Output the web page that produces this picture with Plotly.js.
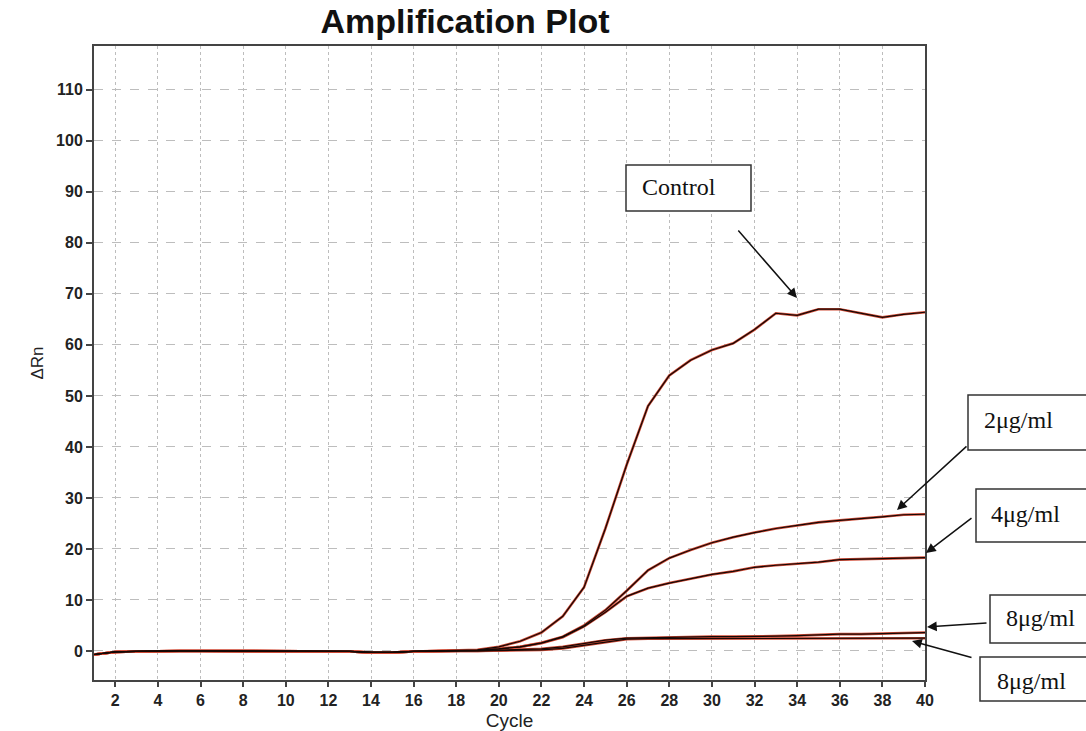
<!DOCTYPE html>
<html>
<head>
<meta charset="utf-8">
<script src="https://cdn.plot.ly/plotly-3.0.1.min.js"></script>
<style>html,body{margin:0;padding:0;background:#fff}#chart{width:1086px;height:731px}</style>
</head>
<body>
<div id="chart"></div>
<script>
// ---- data ----
const cycles = [1,2,3,4,5,6,7,8,9,10,11,12,13,14,15,16,17,18,19,20,21,22,23,24,25,26,27,28,29,30,31,32,33,34,35,36,37,38,39,40];
const control = [-0.7,-0.2,-0.1,0,0,0,0,0,0,0,0,0,-0.1,-0.3,-0.3,-0.1,0,0,0.2,0.8,1.9,3.6,6.8,12.5,24,36.5,48,54,57,59,60.3,63,66.2,65.8,67,67,66.2,65.4,66,66.4];
const ug2 = [-0.7,-0.2,-0.1,0,0,0,0,0,0,0,0,0,-0.1,-0.3,-0.3,-0.1,0,0,0.1,0.4,0.8,1.6,2.8,5,8,11.8,15.8,18.2,19.8,21.2,22.3,23.2,24,24.6,25.2,25.6,25.9,26.3,26.7,26.8];
const ug4 = [-0.7,-0.2,-0.1,0,0,0,0,0,0,0,0,0,-0.1,-0.3,-0.3,-0.1,0,0,0.1,0.4,0.8,1.5,2.7,4.8,7.6,10.7,12.3,13.3,14.1,15,15.6,16.4,16.8,17.1,17.4,17.9,18,18.2,18.3,18.3];
const ug8a = [-0.7,-0.2,-0.1,0,0,0,0,0,0,0,0,0,-0.1,-0.3,-0.3,-0.1,0,0,0,0.1,0.2,0.4,0.8,1.5,2.1,2.5,2.6,2.6,2.7,2.8,2.8,2.8,2.9,3.0,3.2,3.3,3.3,3.4,3.5,3.6];
const ug8b = [-0.7,-0.2,-0.1,0,0,0,0,0,0,0,0,0,-0.1,-0.3,-0.3,-0.1,0,0,0,0.1,0.1,0.2,0.5,1.1,1.8,2.3,2.4,2.4,2.4,2.5,2.5,2.5,2.5,2.5,2.5,2.5,2.5,2.5,2.5,2.5];
const seriesList = [control, ug2, ug4, ug8a, ug8b];
const xTicks = [2,4,6,8,10,12,14,16,18,20,22,24,26,28,30,32,34,36,38,40];
const yTicks = [0,10,20,30,40,50,60,70,80,90,100,110];
const labels = ["Control","2μg/ml","4μg/ml","8μg/ml","8μg/ml"];

// ---- layout helpers (pixel -> paper) ----
const W = 1086, H = 731;
const L = 94, R = 925, T = 46, B = 680;
const px = p => (p - L) / (R - L);
const py = p => (B - p) / (B - T);

const traces = [];
seriesList.forEach(s => {
  traces.push({x: cycles, y: s, mode: 'lines', line: {color: '#d04a35', width: 2.6}, hoverinfo: 'skip'});
});
seriesList.forEach(s => {
  traces.push({x: cycles, y: s, mode: 'lines', line: {color: '#150805', width: 1.2}, hoverinfo: 'skip'});
});

// boxes [left, top, right, bottom] in pixels, text pos, arrow tail & tip
const boxes = [
  {b:[626,165,751,211], t:[640,187], tail:[737,229], tip:[797,298]},
  {b:[968,395,1095,450], t:[982,420], tail:[968,445], tip:[897,510]},
  {b:[976,489,1095,542], t:[989,514], tail:[973,517], tip:[926,553]},
  {b:[990,595,1095,643], t:[1004,618], tail:[988,623], tip:[927,627]},
  {b:[980,657,1095,701], t:[995,681], tail:[973,658], tip:[912,641]}
];

const shapes = boxes.map(o => ({
  type:'rect', xref:'paper', yref:'paper',
  x0: px(o.b[0]), x1: px(o.b[2]), y0: py(o.b[3]), y1: py(o.b[1]),
  line:{color:'#333', width:1.5}, fillcolor:'#fff', layer:'above'
}));

const annotations = [];
boxes.forEach((o, i) => {
  annotations.push({
    xref:'paper', yref:'paper', x: px(o.t[0]), y: py(o.t[1]),
    xanchor:'left', yanchor:'middle', showarrow:false, text: labels[i],
    font:{family:'Liberation Serif, Times New Roman, serif', size:24, color:'#111'}
  });
  annotations.push({
    xref:'paper', yref:'paper', x: px(o.tip[0]), y: py(o.tip[1]),
    ax: o.tail[0] - o.tip[0], ay: o.tail[1] - o.tip[1],
    showarrow:true, text:'', arrowhead:2, arrowsize:1.3, arrowwidth:1.5, arrowcolor:'#111'
  });
});

const layout = {
  width: W, height: H,
  margin: {l: L, r: W - R, t: T, b: H - B, pad: 0},
  paper_bgcolor: '#fff', plot_bgcolor: '#fff',
  showlegend: false,
  title: {text: 'Amplification Plot', x: 465 / W, xref: 'container', xanchor: 'center',
          y: 1 - 21 / H, yref: 'container', yanchor: 'middle',
          font: {family: 'Liberation Sans, Arial, sans-serif', size: 34, color: '#111', weight: 'bold'}},
  xaxis: {
    range: [1, 40], tickvals: xTicks, ticktext: xTicks.map(String),
    showgrid: true, gridcolor: '#bdbdbd', griddash: 'dot', gridwidth: 1,
    zeroline: false, showline: true, linecolor: '#444', linewidth: 2, mirror: true,
    ticks: 'outside', ticklen: 5, tickcolor: '#444', tickwidth: 2,
    tickfont: {family: 'Liberation Sans, Arial, sans-serif', size: 16, color: '#222', weight: 'bold'},
    title: {text: 'Cycle', standoff: 5, font: {family: 'Liberation Sans, Arial, sans-serif', size: 19, color: '#222'}}
  },
  yaxis: {
    range: [-5.7, 118.6], tickvals: yTicks, ticktext: yTicks.map(String),
    showgrid: true, gridcolor: '#bdbdbd', griddash: 'dash', gridwidth: 1,
    zeroline: false, showline: true, linecolor: '#444', linewidth: 2, mirror: true,
    ticks: 'outside', ticklen: 6, tickcolor: '#444', tickwidth: 2,
    tickfont: {family: 'Liberation Sans, Arial, sans-serif', size: 16, color: '#222', weight: 'bold'},
    title: {text: 'ΔRn', standoff: 8, font: {family: 'Liberation Sans, Arial, sans-serif', size: 17, color: '#222'}}
  },
  shapes: shapes,
  annotations: annotations
};

Plotly.newPlot('chart', traces, layout, {staticPlot: true, displayModeBar: false});
</script>
</body>
</html>
